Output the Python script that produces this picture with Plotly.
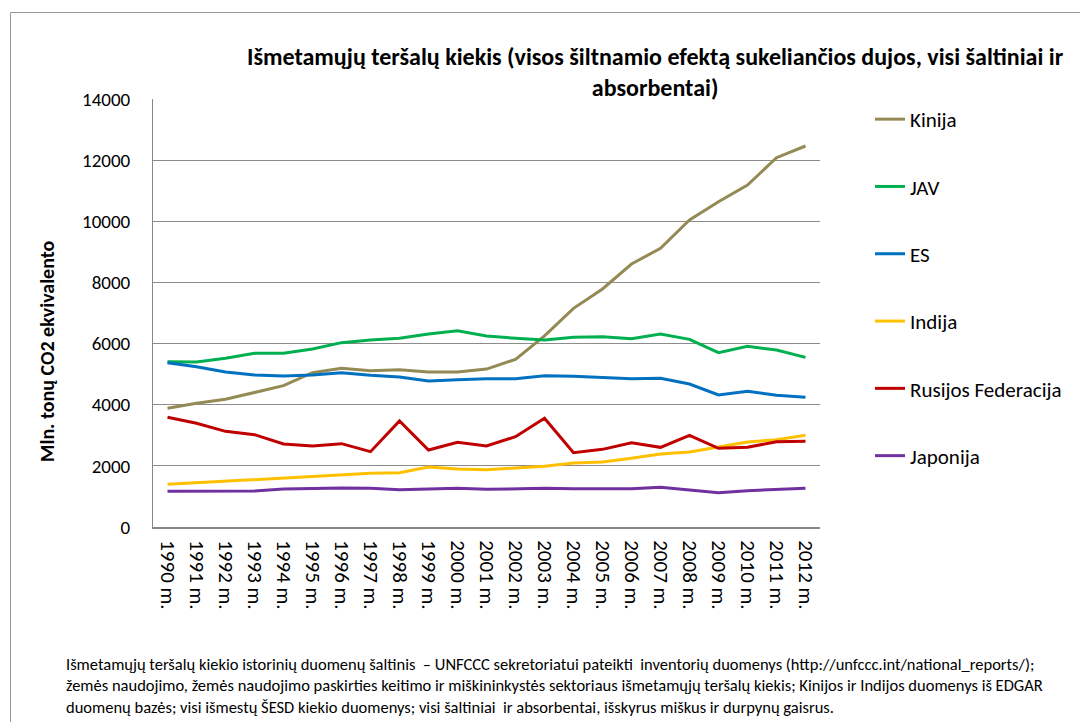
import plotly.graph_objects as go

years = [f"{y} m." for y in range(1990, 2013)]

kinija = [3883, 4046, 4177, 4406, 4623, 5048, 5190, 5114, 5147, 5070, 5070, 5165,
          5485, 6250, 7153, 7786, 8603, 9116, 10042, 10642, 11187, 12081, 12463]
jav = [5408, 5397, 5517, 5681, 5681, 5823, 6030, 6117, 6172, 6313, 6422, 6248,
       6172, 6117, 6204, 6226, 6161, 6313, 6139, 5703, 5910, 5790, 5550]
es = [5375, 5244, 5070, 4972, 4939, 4972, 5048, 4962, 4907, 4776, 4819, 4852,
      4852, 4950, 4928, 4885, 4852, 4863, 4678, 4318, 4438, 4307, 4242]
indija = [1396, 1450, 1494, 1537, 1592, 1646, 1701, 1756, 1777, 1963, 1897, 1875,
          1930, 1985, 2094, 2126, 2246, 2388, 2453, 2617, 2780, 2856, 2998]
rusija = [3587, 3391, 3129, 3020, 2715, 2650, 2726, 2464, 3467, 2519, 2769, 2650,
          2955, 3555, 2431, 2540, 2758, 2606, 2998, 2573, 2606, 2791, 2802]
japonija = [1167, 1167, 1188, 1178, 1243, 1265, 1275, 1265, 1221, 1243, 1265, 1232,
            1254, 1265, 1254, 1265, 1254, 1298, 1210, 1123, 1188, 1232, 1265]

series = [
    ("Kinija", kinija, "#948A54"),
    ("JAV", jav, "#00B050"),
    ("ES", es, "#0070C0"),
    ("Indija", indija, "#FFC000"),
    ("Rusijos Federacija", rusija, "#C00000"),
    ("Japonija", japonija, "#7030A0"),
]

title_text = ("Išmetamųjų teršalų kiekis (visos šiltnamio efektą sukeliančios dujos, visi šaltiniai ir<br>"
              "absorbentai)")
y_title = "Mln. tonų CO2 ekvivalento"
footnote = ("Išmetamųjų teršalų kiekio istorinių duomenų šaltinis  – UNFCCC sekretoriatui pateikti  inventorių duomenys (http://unfccc.int/national_reports/);<br>"
            "žemės naudojimo, žemės naudojimo paskirties keitimo ir miškininkystės sektoriaus išmetamųjų teršalų kiekis; Kinijos ir Indijos duomenys iš EDGAR<br>"
            "duomenų bazės; visi išmestų ŠESD kiekio duomenys; visi šaltiniai  ir absorbentai, išskyrus miškus ir durpynų gaisrus.")

FONT = "Carlito, Lato, sans-serif"

# page offset of the plotly div (default body margin)
OFF = 8
W, H = 1088 - OFF, 722 - OFF
# plot area in page pixels
L, R, T, B = 153, 820, 99, 527

fig = go.Figure()
for i, (name, vals, col) in enumerate(series):
    fig.add_trace(go.Scatter(x=years, y=vals, name=name, mode="lines",
                             line=dict(color=col, width=3),
                             legendgroup=f"g{i}"))

def px_x(x):
    return (x - L) / (R - L)

def px_y(y):
    return (B - y) / (B - T)

fig.update_layout(
    width=W, height=H,
    margin=dict(l=L - OFF, r=W - (R - OFF), t=T - OFF, b=H - (B - OFF), pad=0),
    paper_bgcolor="white", plot_bgcolor="white",
    font=dict(family=FONT, color="black", size=16),
    showlegend=True,
    legend=dict(x=px_x(870), xanchor="left", y=px_y(99), yanchor="top",
                traceorder="grouped", tracegroupgap=37,
                font=dict(size=21, family=FONT), itemwidth=30,
                bgcolor="rgba(0,0,0,0)"),
    xaxis=dict(type="category", tickangle=90, showgrid=False,
               showline=True, linecolor="#868686", linewidth=2,
               ticks="", tickfont=dict(size=21, family=FONT), ticklabelstandoff=7,
               range=[-0.5, len(years) - 0.5]),
    yaxis=dict(range=[0, 14000], dtick=2000, tickformat="d", showgrid=True,
               gridcolor="#8C8C8C", gridwidth=1, showline=True,
               linecolor="#868686", linewidth=1,
               ticks="", tickfont=dict(size=19, family=FONT), ticklabelstandoff=18,
               zeroline=False),
    shapes=[dict(type="rect", xref="paper", yref="paper",
                 x0=px_x(10.5), x1=px_x(1200), y0=px_y(800), y1=px_y(12.5),
                 line=dict(color="#9A9A9A", width=1), fillcolor="rgba(0,0,0,0)",
                 layer="below")],
    annotations=[
        dict(text="<b>" + title_text + "</b>", xref="paper", yref="paper",
             x=px_x(655), y=px_y(40), xanchor="center", yanchor="top",
             showarrow=False, align="center",
             font=dict(size=24, family=FONT)),
        dict(text="<b>" + y_title + "</b>", xref="paper", yref="paper",
             x=px_x(47), y=px_y(352), xanchor="center", yanchor="middle",
             textangle=-90, showarrow=False, font=dict(size=20, family=FONT)),
        dict(text=footnote, xref="paper", yref="paper",
             x=px_x(64), y=px_y(652), xanchor="left", yanchor="top",
             showarrow=False, align="left",
             font=dict(size=16.5, family=FONT)),
    ],
)

fig.write_html("out.html")
